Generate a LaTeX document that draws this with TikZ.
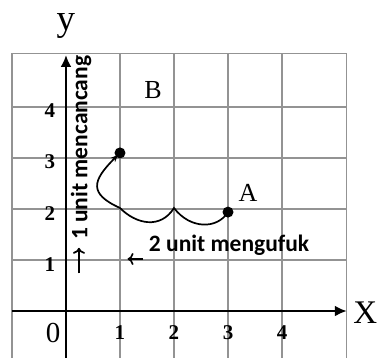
\documentclass[tikz,border=0pt]{standalone}
\usepackage{fontspec}
\setmainfont{Liberation Serif}
\newfontfamily\notefont{Carlito}
\usetikzlibrary{arrows.meta}

\tikzset{
  gridline/.style={gray!85, line width=1.3pt},
  axis/.style={line width=2.6pt, -{Latex[length=12pt,width=11pt]}},
  ticklab/.style={font=\fontsize{21}{21}\selectfont\bfseries, inner sep=0pt},
  letter/.style={font=\fontsize{26}{26}\selectfont, inner sep=0pt},
  note/.style={font=\notefont\fontsize{23.5}{24}\selectfont\bfseries, inner sep=0pt},
  hint/.style={line width=1.7pt, -{To[length=6pt,width=12pt]}},
  dot/.style={circle, fill=black, inner sep=0pt, minimum size=11pt},
}

\begin{document}
\begin{tikzpicture}[x=54pt,y=51pt,>=Latex]
\useasboundingbox (-1.222,-0.902) rectangle (5.759,6.098);
% grid
\foreach \gx in {-1,1,2,3,4,5.2}
  \draw[gridline] (\gx,-0.95) -- (\gx,5.05);
\foreach \gy in {1,2,3,4,5.05}
  \draw[gridline] (-1,\gy) -- (5.2,\gy);
% axes
\coordinate (xs) at (-1,0);
\coordinate (xe) at (5.2,0);
\coordinate (ys) at (0,-0.95);
\coordinate (ye) at (0,5.02);
\draw[axis] (xs) -- (xe);
\draw[axis] (ys) -- (ye);
\node[font=\fontsize{37}{37}\selectfont, inner sep=0pt] (ylab) at (0,5.58) {y};
\node[font=\fontsize{33}{33}\selectfont, inner sep=0pt] (xlab) at (5.54,-0.04) {X};
% tick labels
\node[font=\fontsize{29}{29}\selectfont, inner sep=0pt] (zero) at (-0.24,-0.43) {0};
\foreach \n in {1,...,4} {
  \node[ticklab] (xt\n) at (\n,-0.43) {\n};
  \node[ticklab] (yt\n) at (-0.3,\n-0.08) {\n};
}
% the path from A to B
\coordinate (pA) at (3,1.94);
\coordinate (pB) at (1,3.1);
\coordinate (cusp) at (2,2.02);
\coordinate (cross) at (1,2.02);
\draw[line width=1.7pt, -{Stealth[length=7pt,width=6pt]}, shorten >=3pt]
  (pA) .. controls (2.8,1.6) and (2.3,1.6) .. (cusp)
  .. controls (1.75,1.6) and (1.3,1.7) .. (cross)
  .. controls (0.42,2.3) and (0.48,2.55) .. (pB);
\node[dot] (dotA) at (pA) {};
\node[dot] (dotB) at (pB) {};
\node[letter] (labA) at (3.37,2.31) {A};
\node[letter] (labB) at (1.61,4.33) {B};
% steps
\node[note, rotate=90] (up) at (0.28,3.2) {1 unit mencancang};
\node[note] (across) at (3.02,1.29) {2 unit mengufuk};
\coordinate (upS) at (0.24,0.74);
\coordinate (upE) at (0.24,1.24);
\coordinate (lfS) at (1.43,1.02);
\coordinate (lfE) at (1.14,1.02);
\draw[hint] (upS) -- (upE);
\draw[hint] (lfS) -- (lfE);
\end{tikzpicture}
\end{document}
